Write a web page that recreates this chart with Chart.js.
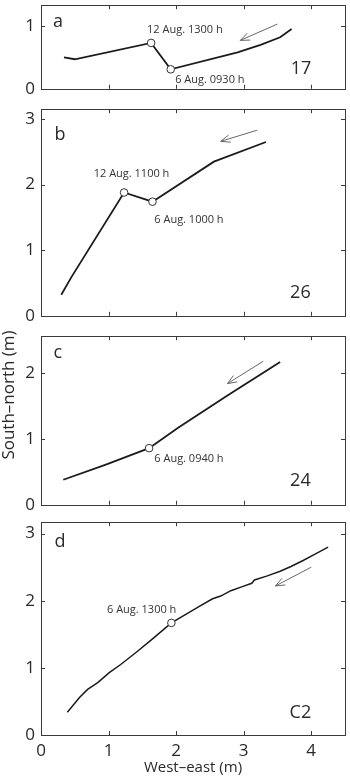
<!DOCTYPE html>
<html>
<head>
<meta charset="utf-8">
<script src="https://cdn.jsdelivr.net/npm/chart.js@4.4.1/dist/chart.umd.min.js"></script>
<style>
  body { margin: 0; background: #fff; width: 350px; height: 780px; overflow: hidden; position: relative; }
  canvas { position: absolute; left: 0; }
  #ylab {
    position: absolute; left: -92px; top: 383px; width: 200px; height: 24px;
    line-height: 24px; text-align: center; transform: rotate(-90deg);
    font-family: "Open Sans", sans-serif; font-size: 17px; color: #2a2a2a;
  }
</style>
</head>
<body>
<canvas id="pa" width="350"></canvas>
<canvas id="pb" width="350"></canvas>
<canvas id="pc" width="350"></canvas>
<canvas id="pd" width="350"></canvas>
<div id="ylab">South–north (m)</div>

<script>
// Axis ticks (m)
    var xTicks = [0, 1, 2, 3, 4];
    var aYTicks = [0, 1];
    var bYTicks = [0, 1, 2, 3];
    var cYTicks = [0, 1, 2];
    var dYTicks = [0, 1, 2, 3];

// Panel a - track 17
    var aX = [0.34, 0.50, 1.63, 1.92, 2.91, 3.25, 3.54, 3.71];
    var aY = [0.50, 0.47, 0.73, 0.31, 0.58, 0.70, 0.82, 0.95];
    var aMarkX = [1.63, 1.92];
    var aMarkY = [0.73, 0.31];

// Panel b - track 26
    var bX = [0.30, 0.45, 1.23, 1.65, 2.56, 3.33];
    var bY = [0.32, 0.59, 1.88, 1.74, 2.35, 2.65];
    var bMarkX = [1.23, 1.65];
    var bMarkY = [1.88, 1.74];

// Panel c - track 24
    var cX = [0.33, 0.96, 1.60, 2.03, 2.76, 3.54];
    var cY = [0.38, 0.61, 0.86, 1.17, 1.66, 2.17];
    var cMarkX = [1.60];
    var cMarkY = [0.86];

// Panel d - track C2
    var dX = [0.39, 0.57, 0.69, 0.84, 1.01, 1.18, 1.42, 1.66, 1.93, 2.20, 2.35, 2.54, 2.66, 2.81, 2.98, 3.12, 3.16, 3.35, 3.54, 3.70, 3.88, 4.05, 4.25];
    var dY = [0.34, 0.56, 0.68, 0.78, 0.93, 1.05, 1.24, 1.44, 1.67, 1.83, 1.92, 2.03, 2.07, 2.15, 2.21, 2.26, 2.31, 2.37, 2.44, 2.51, 2.60, 2.69, 2.80];
    var dMarkX = [1.93];
    var dMarkY = [1.67];

    var FONT = '"Open Sans", sans-serif';

function pts(xs, ys){
    return xs.map(function(x, i){ return {x: x, y: ys[i]}; });
}

// frame, inward ticks, labels and arrows
var panelDecor = {
    id: 'panelDecor',
    afterDraw: function(chart, args, o){
        var ctx = chart.ctx;
        var a = chart.chartArea;
        var sx = chart.scales.x, sy = chart.scales.y;
        ctx.save();
        ctx.strokeStyle = '#3a3a3a';
        ctx.lineWidth = 1;
        ctx.strokeRect(Math.round(a.left) + 0.5, Math.round(a.top) + 0.5, Math.round(a.right - a.left), Math.round(a.bottom - a.top));

        ctx.beginPath();
        o.xTicks.forEach(function(v){
            var px = Math.round(sx.getPixelForValue(v)) + 0.5;
            ctx.moveTo(px, a.bottom); ctx.lineTo(px, a.bottom - 4);
            ctx.moveTo(px, a.top); ctx.lineTo(px, a.top + 4);
        });
        o.yTicks.forEach(function(v){
            var py = Math.round(sy.getPixelForValue(v)) + 0.5;
            ctx.moveTo(a.left, py); ctx.lineTo(a.left + 4, py);
            ctx.moveTo(a.right, py); ctx.lineTo(a.right - 4, py);
        });
        ctx.stroke();

        ctx.textAlign = 'center';
        ctx.textBaseline = 'middle';
        ctx.fillStyle = '#2a2a2a';
        ctx.font = '18px ' + FONT;
        ctx.fillText(o.letter[0], sx.getPixelForValue(o.letter[1]), sy.getPixelForValue(o.letter[2]));
        ctx.fillText(o.number[0], sx.getPixelForValue(o.number[1]), sy.getPixelForValue(o.number[2]));

        ctx.fillStyle = '#333';
        ctx.font = '11px ' + FONT;
        o.notes.forEach(function(n){
            ctx.fillText(n[0], sx.getPixelForValue(n[1]), sy.getPixelForValue(n[2]));
        });

        // arrow
        var x1 = sx.getPixelForValue(o.arrow[0]), y1 = sy.getPixelForValue(o.arrow[1]);
        var x2 = sx.getPixelForValue(o.arrow[2]), y2 = sy.getPixelForValue(o.arrow[3]);
        var ang = Math.atan2(y2 - y1, x2 - x1);
        ctx.strokeStyle = '#666';
        ctx.lineWidth = 1;
        ctx.beginPath();
        ctx.moveTo(x1, y1); ctx.lineTo(x2, y2);
        ctx.moveTo(x2 - 10 * Math.cos(ang - 0.38), y2 - 10 * Math.sin(ang - 0.38));
        ctx.lineTo(x2, y2);
        ctx.lineTo(x2 - 10 * Math.cos(ang + 0.38), y2 - 10 * Math.sin(ang + 0.38));
        ctx.stroke();
        ctx.restore();
    }
};

function makePanel(id, p){
    var last = !!p.last;
    var padTop = 12;
    var padBottom = last ? 0 : 12;
    var canvas = document.getElementById(id);
    var h = last ? (780 - p.boxTop + padTop) : (p.boxBottom - p.boxTop + padTop + padBottom);
    canvas.height = h;
    canvas.style.top = (p.boxTop - padTop) + 'px';

    return new Chart(canvas.getContext('2d'), {
        type: 'line',
        data: {
            datasets: [{
                data: pts(p.markX, p.markY),
                showLine: false,
                pointRadius: 3.8,
                pointBackgroundColor: '#fff',
                pointBorderColor: '#333',
                pointBorderWidth: 1,
                order: 0
            }, {
                data: pts(p.lineX, p.lineY),
                borderColor: '#1b1b1b',
                borderWidth: p.lineWidth,
                pointRadius: 0,
                tension: 0,
                fill: false,
                order: 1
            }]
        },
        options: {
            responsive: false,
            animation: false,
            events: [],
            layout: { padding: { top: padTop, bottom: padBottom, left: 0, right: 2 } },
            plugins: {
                legend: { display: false },
                tooltip: { enabled: false },
                panelDecor: {
                    xTicks: xTicks, yTicks: p.yTicks,
                    letter: p.letter, number: p.number,
                    notes: p.notes, arrow: p.arrow
                }
            },
            scales: {
                x: {
                    type: 'linear', min: 0, max: 4.5,
                    display: last,
                    afterBuildTicks: function(s){ s.ticks = xTicks.map(function(v){ return {value: v}; }); },
                    afterFit: function(s){ if (last) s.height = 45; },
                    grid: { display: false, drawTicks: false },
                    border: { display: false },
                    ticks: { color: '#2a2a2a', padding: 6, font: { family: FONT, size: 17 } },
                    title: { display: true, text: 'West–east (m)', color: '#2a2a2a', padding: { top: 0, bottom: 3 }, font: { family: FONT, size: 15 } }
                },
                y: {
                    type: 'linear', min: 0, max: p.yMax,
                    afterBuildTicks: function(s){ s.ticks = p.yTicks.map(function(v){ return {value: v}; }); },
                    afterFit: function(s){ s.width = 41; },
                    grid: { display: false, drawTicks: false },
                    border: { display: false },
                    ticks: { color: '#2a2a2a', padding: 6, font: { family: FONT, size: 17 } }
                }
            }
        },
        plugins: [panelDecor]
    });
}

makePanel('pa', {
    boxTop: 1, boxBottom: 93, yMax: 1.33, yTicks: aYTicks,
    lineX: aX, lineY: aY, markX: aMarkX, markY: aMarkY, lineWidth: 1.8,
    letter: ['a', 0.25, 1.06], number: ['17', 3.85, 0.32],
    notes: [['12 Aug. 1300 h', 2.13, 0.93], ['6 Aug. 0930 h', 2.50, 0.14]],
    arrow: [3.50, 1.03, 2.95, 0.77]
});
makePanel('pb', {
    boxTop: 105, boxBottom: 320, yMax: 3.15, yTicks: bYTicks,
    lineX: bX, lineY: bY, markX: bMarkX, markY: bMarkY, lineWidth: 1.8,
    letter: ['b', 0.28, 2.76], number: ['26', 3.84, 0.35],
    notes: [['12 Aug. 1100 h', 1.34, 2.17], ['6 Aug. 1000 h', 2.19, 1.47]],
    arrow: [3.20, 2.83, 2.66, 2.66]
});
makePanel('pc', {
    boxTop: 332, boxBottom: 509, yMax: 2.56, yTicks: cYTicks,
    lineX: cX, lineY: cY, markX: cMarkX, markY: cMarkY, lineWidth: 1.8,
    letter: ['c', 0.25, 2.30], number: ['24', 3.84, 0.37],
    notes: [['6 Aug. 0940 h', 2.19, 0.70]],
    arrow: [3.29, 2.18, 2.76, 1.84]
});
makePanel('pd', {
    boxTop: 518, boxBottom: 735, yMax: 3.17, yTicks: dYTicks, last: true,
    lineX: dX, lineY: dY, markX: dMarkX, markY: dMarkY, lineWidth: 1.5,
    letter: ['d', 0.28, 2.87], number: ['C2', 3.84, 0.33],
    notes: [['6 Aug. 1300 h', 1.49, 1.87]],
    arrow: [4.00, 2.50, 3.47, 2.22]
});
</script>
</body>
</html>
